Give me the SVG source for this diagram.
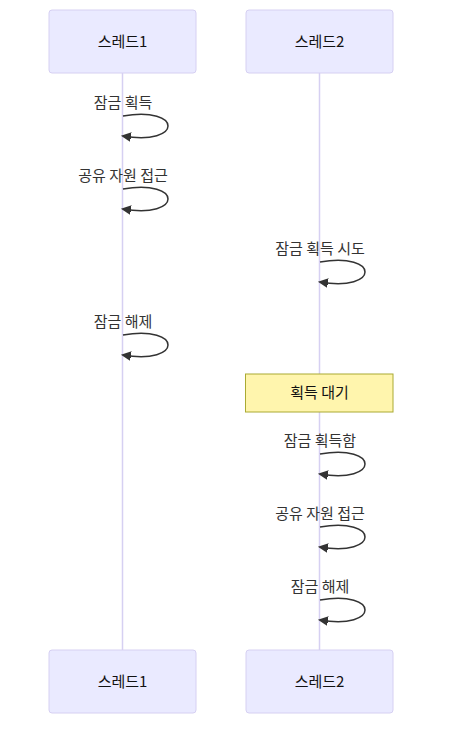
<svg xmlns="http://www.w3.org/2000/svg" width="451" height="738" viewBox="0 0 451 738">
<style>
.actor{fill:#eaeaff;stroke:#d6d0f2;stroke-width:1}
.atext{font-family:"Noto Sans CJK KR","Noto Sans",sans-serif;font-size:15px;fill:#111;text-anchor:middle}
.life{stroke:#d6d0f2;stroke-width:1.5;fill:none}
.msg{stroke:#333;stroke-width:1.5;fill:none}
.mtext{font-family:"Noto Sans CJK KR","Noto Sans",sans-serif;font-size:15px;fill:#333;text-anchor:middle}
.note{fill:#fff5ad;stroke:#aaaa33;stroke-width:1}
</style>
<defs>
<marker id="arrowhead" refX="7.9" refY="5" markerUnits="userSpaceOnUse" markerWidth="12" markerHeight="12" orient="auto"><path d="M -1 0 L 10 5 L 0 10 z" fill="#333" stroke="none"/></marker>
</defs>
<rect width="451" height="738" fill="#fff"/>
<g id="lifelines">
<line class="life" x1="122.5" y1="73" x2="122.5" y2="650"/>
<line class="life" x1="319.5" y1="73" x2="319.5" y2="650"/>
</g>
<g id="actor-top-1"><rect class="actor" x="49" y="10" width="147" height="63" rx="3"/><text class="atext" x="122.5" y="47">스레드1</text></g>
<g id="actor-top-2"><rect class="actor" x="246" y="10" width="147" height="63" rx="3"/><text class="atext" x="319.5" y="47">스레드2</text></g>
<g id="actor-bottom-1"><rect class="actor" x="49" y="650" width="147" height="63" rx="3"/><text class="atext" x="122.5" y="687">스레드1</text></g>
<g id="actor-bottom-2"><rect class="actor" x="246" y="650" width="147" height="63" rx="3"/><text class="atext" x="319.5" y="687">스레드2</text></g>
<g id="note-1"><rect class="note" x="245.5" y="374" width="147.5" height="38"/><text class="atext" x="319.5" y="398">획득 대기</text></g>
<g id="connectors">
<path class="msg" marker-end="url(#arrowhead)" d="M 123,116 C 183,106 183,146 123,136"/>
<path class="msg" marker-end="url(#arrowhead)" d="M 123,189 C 183,179 183,219 123,209"/>
<path class="msg" marker-end="url(#arrowhead)" d="M 320,262 C 380,252 380,292 320,282"/>
<path class="msg" marker-end="url(#arrowhead)" d="M 123,335 C 183,325 183,365 123,355"/>
<path class="msg" marker-end="url(#arrowhead)" d="M 320,454 C 380,444 380,484 320,474"/>
<path class="msg" marker-end="url(#arrowhead)" d="M 320,527 C 380,517 380,557 320,547"/>
<path class="msg" marker-end="url(#arrowhead)" d="M 320,600 C 380,590 380,630 320,620"/>
</g>
<g id="labels">
<text class="mtext" x="123" y="108">잠금 획득</text>
<text class="mtext" x="123" y="181">공유 자원 접근</text>
<text class="mtext" x="320" y="254">잠금 획득 시도</text>
<text class="mtext" x="123" y="327">잠금 해제</text>
<text class="mtext" x="320" y="446">잠금 획득함</text>
<text class="mtext" x="320" y="519">공유 자원 접근</text>
<text class="mtext" x="320" y="592">잠금 해제</text>
</g>
</svg>
